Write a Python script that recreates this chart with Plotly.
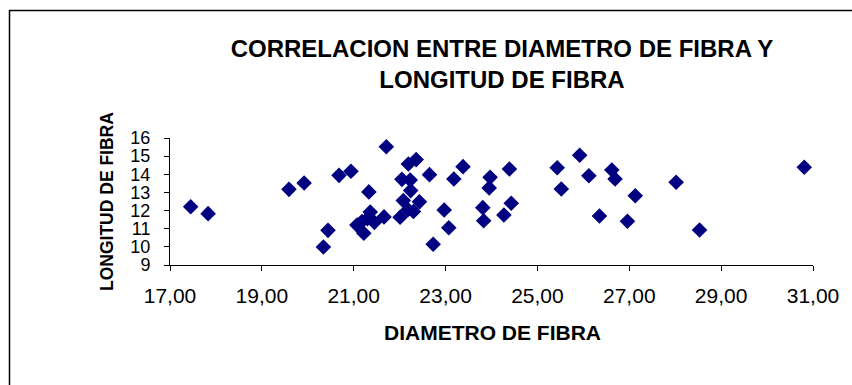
import plotly.graph_objects as go

# Data
diametro = [17.45, 17.83, 19.59, 19.92, 20.34, 20.44, 20.68, 20.94, 21.07, 21.18,
            21.22, 21.30, 21.36, 21.45, 21.66, 21.33, 21.71, 22.01, 22.08, 22.05,
            22.19, 22.23, 22.24, 22.18, 22.30, 22.36, 22.43, 22.65, 22.73, 22.97,
            23.07, 23.18, 23.38, 23.81, 23.83, 23.95, 23.97, 24.27, 24.39, 24.43,
            25.43, 25.52, 25.92, 26.12, 26.35, 26.62, 26.69, 26.96, 27.13, 28.02,
            28.53, 30.81]
longitud = [12.21, 11.83, 13.17, 13.52, 9.99, 10.91, 13.94, 14.17, 11.20, 11.40,
            10.75, 11.55, 11.92, 11.35, 11.65, 13.03, 15.52, 11.63, 12.55, 13.72,
            14.57, 13.68, 13.10, 12.05, 11.95, 14.81, 12.48, 13.98, 10.14, 12.03,
            11.05, 13.74, 14.42, 12.16, 11.44, 13.25, 13.83, 11.76, 14.29, 12.40,
            14.36, 13.19, 15.05, 13.92, 11.70, 14.24, 13.74, 11.41, 12.82, 13.56,
            10.93, 14.39]

x_ticks = [17, 19, 21, 23, 25, 27, 29, 31]
y_ticks = [9, 10, 11, 12, 13, 14, 15, 16]

titulo = "CORRELACION ENTRE DIAMETRO DE FIBRA Y<br>LONGITUD DE FIBRA"
titulo_x = "DIAMETRO DE FIBRA"
titulo_y = "LONGITUD DE FIBRA"

FONT = "Liberation Sans, Arial, sans-serif"

fig = go.Figure(go.Scatter(
    x=diametro, y=longitud, mode="markers",
    marker=dict(symbol="diamond", size=12, color="#000080", line=dict(width=0)),
    showlegend=False,
))

W, H = 852, 385
L, R, T, B = 170, 39, 138, 120
pw, ph = W - L - R, H - T - B

fig.update_layout(
    width=W, height=H,
    margin=dict(l=L, r=R, t=T, b=B, pad=0),
    paper_bgcolor="white", plot_bgcolor="white",
    separators=",.",
    font=dict(family=FONT, color="black"),
    title=dict(text="<b>" + titulo + "</b>", x=502 / W, xref="container",
               xanchor="center", y=1 - 57 / H, yref="container", yanchor="middle",
               font=dict(size=24, family=FONT, color="black")),
    xaxis=dict(range=[17, 31], tickvals=x_ticks, tickformat=".2f",
               showgrid=False, zeroline=False, showline=True, linecolor="#000000", linewidth=1,
               ticks="outside", ticklen=5, tickcolor="#000000",
               tickfont=dict(size=21, family=FONT, color="black"), ticklabelstandoff=7),
    yaxis=dict(range=[9, 16], tickvals=y_ticks,
               showgrid=False, zeroline=False, showline=True, linecolor="#000000", linewidth=1,
               ticks="outside", ticklen=5, tickcolor="#000000",
               tickfont=dict(size=18, family=FONT, color="black"), ticklabelstandoff=10),
    annotations=[
        dict(text="<b>" + titulo_x + "</b>", xref="paper", yref="paper",
             x=(492 - L) / pw, y=(H - B - 332) / ph, xanchor="center", yanchor="middle",
             showarrow=False, font=dict(size=21, family=FONT, color="black")),
        dict(text="<b>" + titulo_y + "</b>", xref="paper", yref="paper",
             x=(107 - L) / pw, y=(H - B - 202) / ph, xanchor="center", yanchor="middle",
             textangle=-90, showarrow=False, font=dict(size=17.5, family=FONT, color="black")),
    ],
    shapes=[
        dict(type="rect", xref="paper", yref="paper",
             x0=(9.5 - L) / pw, y0=(H - B - 10.5) / ph, x1=1.2, y1=-1.5,
             line=dict(color="black", width=1.5), fillcolor="rgba(0,0,0,0)", layer="below"),
    ],
)

fig.write_html("out.html")
